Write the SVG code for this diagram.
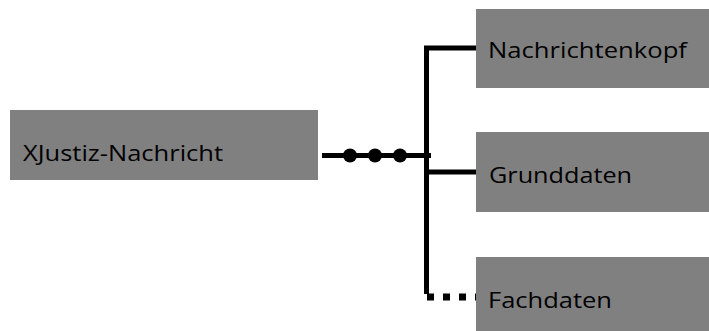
<svg xmlns="http://www.w3.org/2000/svg" width="709" height="331" viewBox="0 0 709 331">
<style>
.box{fill:#808080}
.lbl{font-family:"Open Sans","Noto Sans",sans-serif;font-size:21.5px;fill:#000}
.ln{stroke:#000;stroke-width:5;fill:none}
</style>
<rect width="709" height="331" fill="#fff"/>
<g id="connectors">
<line class="ln" x1="322" y1="155.5" x2="431" y2="155.5"/>
<circle cx="350" cy="155.5" r="7"/>
<circle cx="375" cy="155.5" r="7"/>
<circle cx="400" cy="155.5" r="7"/>
<polyline class="ln" points="476,48 426.5,48 426.5,294"/>
<line class="ln" x1="429" y1="172" x2="476" y2="172"/>
<line stroke="#000" stroke-width="7" stroke-dasharray="7 9" x1="427" y1="297" x2="476" y2="297"/>
</g>
<g id="node-xjustiz">
<rect class="box" x="10" y="110" width="308" height="70"/>
<text class="lbl" x="23" y="161" textLength="200" lengthAdjust="spacingAndGlyphs">XJustiz-Nachricht</text>
</g>
<g id="node-nachrichtenkopf">
<rect class="box" x="476" y="9" width="233" height="79"/>
<text class="lbl" x="488" y="58" textLength="199" lengthAdjust="spacingAndGlyphs">Nachrichtenkopf</text>
</g>
<g id="node-grunddaten">
<rect class="box" x="476" y="132" width="233" height="80"/>
<text class="lbl" x="489" y="183" textLength="143" lengthAdjust="spacingAndGlyphs">Grunddaten</text>
</g>
<g id="node-fachdaten">
<rect class="box" x="476" y="257" width="233" height="74"/>
<text class="lbl" x="488" y="308" textLength="124" lengthAdjust="spacingAndGlyphs">Fachdaten</text>
</g>
</svg>
